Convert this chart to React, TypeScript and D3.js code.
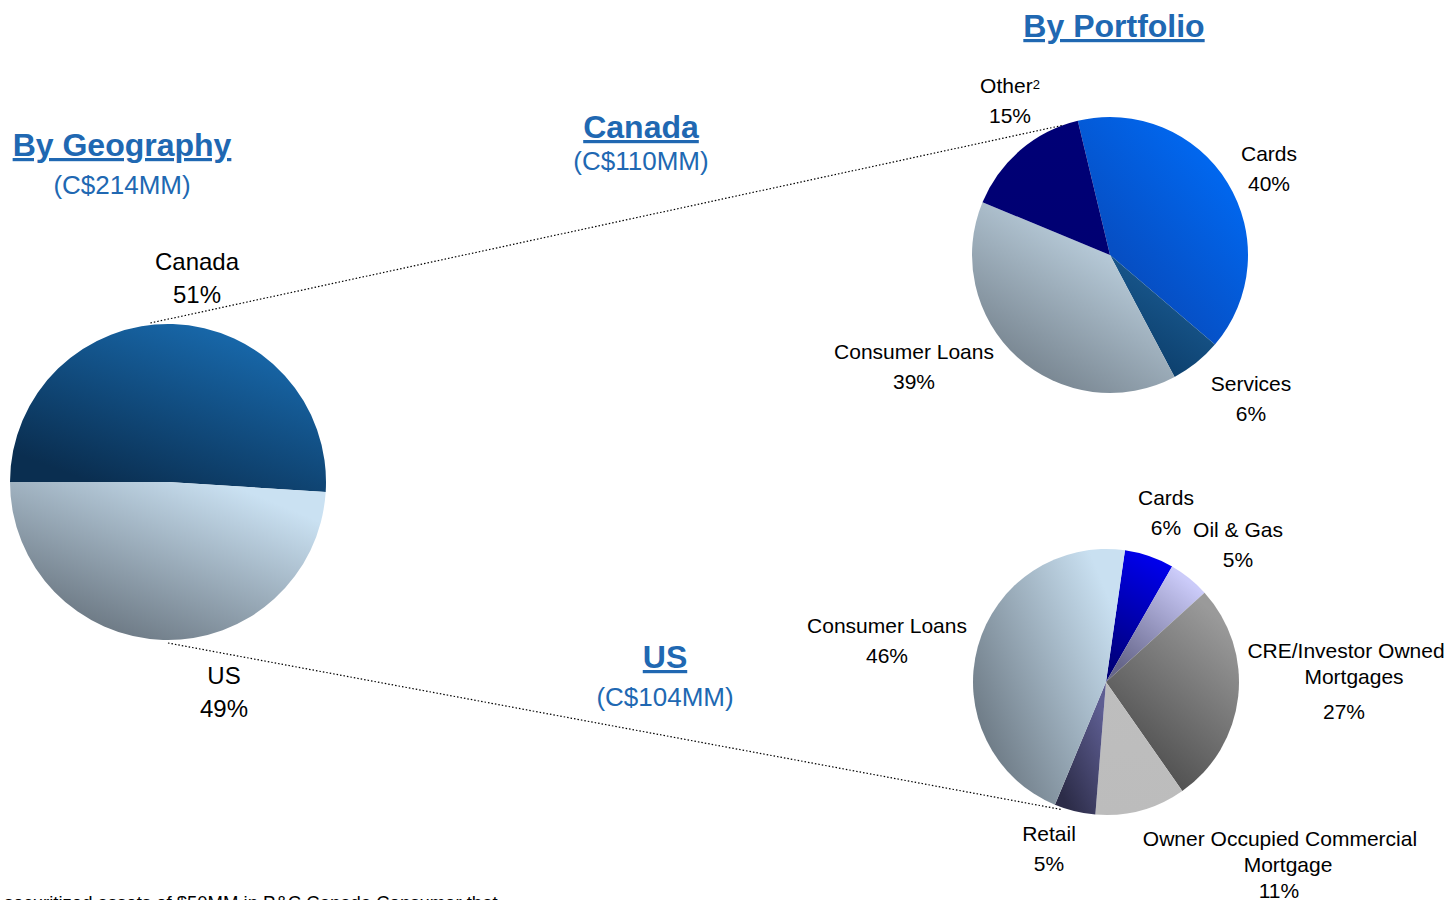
import React from 'react';
import * as d3 from 'd3';

// values (percent of each total)
const geoLabels = ['Canada', 'US'];
const geoValues = [51, 49];
const geoPct = ['51%', '49%'];

const canadaLabels = ['Cards', 'Services', 'Consumer Loans', 'Other'];
const canadaValues = [40, 6, 39, 15];
const canadaPct = ['40%', '6%', '39%', '15%'];

const usLabels = ['Cards', 'Oil & Gas', 'CRE/Investor Owned|Mortgages', 'Owner Occupied Commercial|Mortgage', 'Retail', 'Consumer Loans'];
const usValues = [6, 5, 27, 11, 5, 46];
const usPct = ['6%', '5%', '27%', '11%', '5%', '46%'];

const BLUE = '#2068b2';
const FONT = 'Liberation Sans, Arial, sans-serif';
const deg = Math.PI / 180;

// slice fills: dark stop -> light stop, light side toward `angle` (compass degrees)
type Fill = { from: string; to: string; angle: number };
const geoFills: Fill[] = [
  { from: '#0a2e50', to: '#1869ac', angle: 35 },
  { from: '#6a7681', to: '#cae1f2', angle: 40 },
];
const canadaFills: Fill[] = [
  { from: '#0846b4', to: '#006af4', angle: 40 },
  { from: '#0b3c68', to: '#1c5f98', angle: 30 },
  { from: '#74818c', to: '#c8ddec', angle: 35 },
  { from: '#000072', to: '#000076', angle: 0 },
];
const usFills: Fill[] = [
  { from: '#000078', to: '#0000ee', angle: 15 },
  { from: '#66668a', to: '#cbcbf9', angle: 35 },
  { from: '#4a4a4a', to: '#9a9a9a', angle: 30 },
  { from: '#bcbcbc', to: '#bebebe', angle: 0 },
  { from: '#2c2c48', to: '#5e5e92', angle: 40 },
  { from: '#6e7b86', to: '#c9e0f1', angle: 55 },
];

type LabelPos = { x: number; y: number; pctDy?: number; pctDx?: number };

const geoLayout = { cx: 168, cy: 482, r: 158, start: -90 };
const canadaLayout = { cx: 1110, cy: 255, r: 138, start: -13.5 };
const usLayout = { cx: 1106, cy: 682, r: 133, start: 8.2 };

const geoLabelPos: LabelPos[] = [
  { x: 197, y: 270 },
  { x: 224, y: 684 },
];
const canadaLabelPos: LabelPos[] = [
  { x: 1269, y: 161 },
  { x: 1251, y: 391 },
  { x: 914, y: 359 },
  { x: 1010, y: 93 },
];
const usLabelPos: LabelPos[] = [
  { x: 1166, y: 505 },
  { x: 1238, y: 537 },
  { x: 1346, y: 658, pctDy: 61, pctDx: -2 },
  { x: 1280, y: 846, pctDy: 52, pctDx: -1 },
  { x: 1049, y: 841 },
  { x: 887, y: 633 },
];

function polar(l: { cx: number; cy: number; r: number }, a: number, rr = l.r): [number, number] {
  return [l.cx + rr * Math.sin(a * deg), l.cy - rr * Math.cos(a * deg)];
}

function Pie(props: {
  id: string;
  values: number[];
  labels: string[];
  pct: string[];
  fills: Fill[];
  layout: { cx: number; cy: number; r: number; start: number };
  pos: LabelPos[];
  size: number;
  lineGap: number;
}) {
  const { id, values, labels, pct, fills, layout, pos, size, lineGap } = props;
  const pie = d3
    .pie<number>()
    .sort(null)
    .value(d => d)
    .startAngle(layout.start * deg)
    .endAngle((layout.start + 360) * deg);
  const arc = d3.arc<d3.PieArcDatum<number>>().innerRadius(0).outerRadius(layout.r);
  const arcs = pie(values);

  return (
    <g>
      <defs>
        {fills.map((f, i) => {
          const s = Math.sin(f.angle * deg) / 2;
          const c = Math.cos(f.angle * deg) / 2;
          return (
            <linearGradient key={i} id={`${id}-g${i}`} x1={0.5 - s} y1={0.5 + c} x2={0.5 + s} y2={0.5 - c}>
              <stop offset="0" stopColor={f.from} />
              <stop offset="1" stopColor={f.to} />
            </linearGradient>
          );
        })}
      </defs>
      <g transform={`translate(${layout.cx},${layout.cy})`}>
        {arcs.map((a, i) => (
          <path key={i} d={arc(a) || ''} fill={`url(#${id}-g${i})`} />
        ))}
      </g>
      {labels.map((lab, i) => {
        const p = pos[i];
        const lines = lab.split('|');
        const sup = lab === 'Other' && id === 'ca';
        return (
          <g key={i} fontFamily={FONT} fontSize={size} fill="#000">
            {lines.map((ln, j) => (
              <text key={j} x={p.x + (j > 0 ? 8 : 0)} y={p.y + j * (lineGap - 4)} textAnchor="middle">
                {ln}
                {sup && <tspan fontSize={13} dy={-4}>2</tspan>}
              </text>
            ))}
            <text
              x={p.x + (p.pctDx || 0)}
              y={p.y + (p.pctDy !== undefined ? p.pctDy : lineGap)}
              textAnchor="middle"
            >
              {pct[i]}
            </text>
          </g>
        );
      })}
    </g>
  );
}

function Heading(props: { x: number; y: number; title: string; sub?: string; subY?: number }) {
  const { x, y, title, sub, subY } = props;
  return (
    <g fontFamily={FONT} fill={BLUE} textAnchor="middle">
      <text x={x} y={y} fontSize={32} fontWeight="bold" style={{ textDecoration: 'underline' }}>
        {title}
      </text>
      {sub && (
        <text x={x} y={subY} fontSize={26}>
          {sub}
        </text>
      )}
    </g>
  );
}

export default function App() {
  const a1 = polar(geoLayout, -6.4);
  const b1 = polar(canadaLayout, -19.8);
  const a2 = polar(geoLayout, 180, geoLayout.r + 3);
  const b2 = polar(usLayout, 199, usLayout.r + 2);

  return (
    <div style={{ position: 'absolute', left: 0, top: 0 }}>
      <svg width={1448} height={900} style={{ display: 'block', background: '#fff' }}>
        <line x1={a1[0]} y1={a1[1] - 2} x2={b1[0]} y2={b1[1]} stroke="#000" strokeWidth={1.2} strokeDasharray="1.5,2" />
        <line x1={a2[0]} y1={a2[1]} x2={b2[0]} y2={b2[1]} stroke="#000" strokeWidth={1.2} strokeDasharray="1.5,2" />

        <Pie id="geo" values={geoValues} labels={geoLabels} pct={geoPct} fills={geoFills} layout={geoLayout} pos={geoLabelPos} size={24} lineGap={33} />
        <Pie id="ca" values={canadaValues} labels={canadaLabels} pct={canadaPct} fills={canadaFills} layout={canadaLayout} pos={canadaLabelPos} size={21} lineGap={30} />
        <Pie id="us" values={usValues} labels={usLabels} pct={usPct} fills={usFills} layout={usLayout} pos={usLabelPos} size={21} lineGap={30} />

        <Heading x={122} y={156} title="By Geography" sub="(C$214MM)" subY={194} />
        <Heading x={1114} y={37} title="By Portfolio" />
        <Heading x={641} y={138} title="Canada" sub="(C$110MM)" subY={170} />
        <Heading x={665} y={668} title="US" sub="(C$104MM)" subY={706} />

        <text x={4} y={909} fontFamily={FONT} fontSize={18.5} fill="#000">
          securitized assets of $50MM in P&amp;C Canada Consumer that
        </text>
      </svg>
    </div>
  );
}
